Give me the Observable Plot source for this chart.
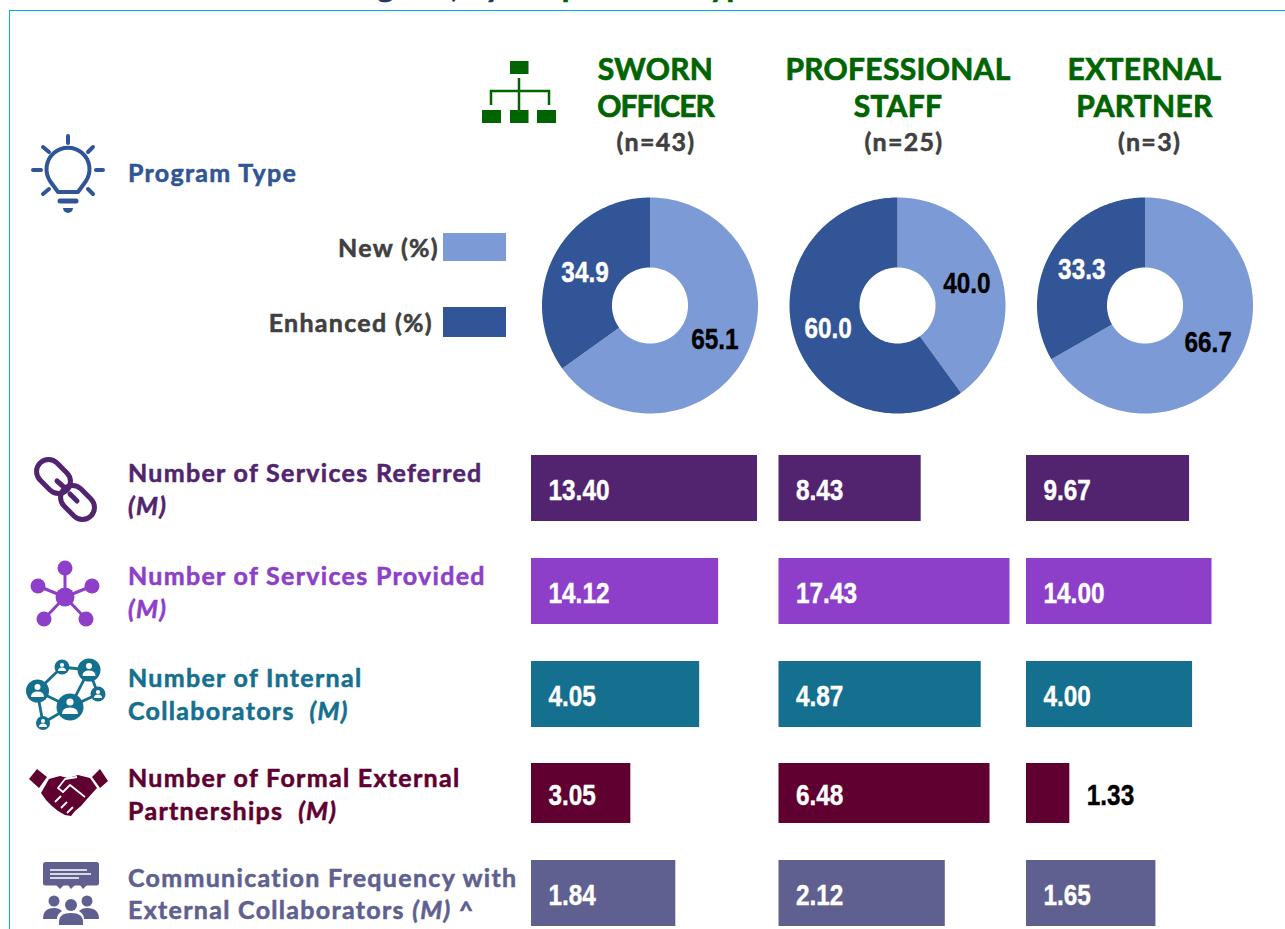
<!DOCTYPE html>
<html><head><meta charset="utf-8">
<script src="https://cdn.jsdelivr.net/npm/d3@7"></script>
<script src="https://cdn.jsdelivr.net/npm/@observablehq/plot@0.6"></script>
<style>
html,body{margin:0;padding:0;background:#fff;overflow:hidden}
#page{position:relative;width:1285px;height:929px;overflow:hidden;font-family:Lato,sans-serif}
#frame{position:absolute;left:9px;top:10px;width:1300px;height:950px;border:1.5px solid #00AEEF;box-sizing:border-box}
.t{position:absolute;white-space:nowrap;font-weight:700;line-height:1;-webkit-text-stroke:.55px currentColor}
.t i{font-style:italic}
.plot{position:absolute}
.plot svg,svg.plot{overflow:visible;background:transparent}
</style></head><body><div id="page"><div id="frame"></div>
<svg id="icons" width="1285" height="929" style="position:absolute;left:0;top:0">
 <g fill="#006400" stroke="none">
  <rect x="510" y="61" width="18.5" height="13"/><rect x="482" y="110" width="19" height="13"/><rect x="510" y="110" width="18.5" height="13"/><rect x="537" y="110" width="19" height="13"/>
 </g>
 <path d="M519 78V110M491 105V91H549V105" fill="none" stroke="#006400" stroke-width="2.5"/>
 <g fill="none" stroke="#2F5597" stroke-width="4" stroke-linecap="round">
  <path d="M58 192L50 181A21.5 21.5 0 1 1 86 181L78 192Z" stroke-linejoin="round"/>
  <path d="M68 136V143M33 170H41M96 170H103M43 147L49 152M93 147L88 152M43 194L49 189M93 194L88 189"/>
  <path d="M60 201H76" stroke-width="5"/>
 </g>
 <path d="M63 208H73A5 5 0 0 1 63 208Z" fill="#2F5597"/>
 <g fill="none" stroke="#52246F" stroke-width="5" stroke-linecap="round">
  <rect x="-19" y="-12" width="38" height="24" rx="12" transform="translate(53.500 476.500) rotate(45)"/>
  <rect x="-19" y="-12" width="38" height="24" rx="12" transform="translate(77.500 502.500) rotate(45)"/>
  <path d="M57 481L65 488M70 494L77 501"/>
 </g>
 <g fill="#8E3FCA" stroke="#8E3FCA" stroke-width="3">
  <path d="M65 597V568M65 597L38 586M65 597L92 586M65 597L44 619M65 597L86 619" fill="none"/>
  <g stroke="none"><circle cx="65" cy="597" r="9.5"/><circle cx="65" cy="568" r="7.5"/><circle cx="38" cy="586" r="7.5"/><circle cx="92" cy="586" r="7.5"/><circle cx="44" cy="619" r="7.5"/><circle cx="86" cy="619" r="7.5"/></g>
 </g>
 <g>
  <path d="M37 691L62 667L89 670L70 707L37 691L43 723L70 707L98 694L89 670" fill="none" stroke="#156F8F" stroke-width="2.8"/>
  <g fill="#156F8F"><circle cx="70" cy="707" r="13.5"/><circle cx="89" cy="670" r="11.5"/><circle cx="37.500" cy="691" r="11.500"/><circle cx="62" cy="667" r="7.500"/><circle cx="98" cy="694" r="7.500"/><circle cx="43" cy="723" r="7"/></g>
  <g fill="#fff">
   <circle cx="70" cy="702" r="3.600"/><path d="M62 714Q62 707.500 70 707.500Q78 707.500 78 714Z"/>
   <circle cx="89" cy="666" r="3"/><path d="M82.500 676Q82.500 670.500 89 670.500Q95.500 670.500 95.500 676Z"/>
   <circle cx="37.500" cy="687" r="3"/><path d="M31 697Q31 691.500 37.500 691.500Q44 691.500 44 697Z"/>
   <circle cx="62" cy="665" r="2.100"/><path d="M58 671Q58 667.500 62 667.500Q66 667.500 66 671Z"/>
   <circle cx="98" cy="692" r="2.100"/><path d="M94 698Q94 694.500 98 694.500Q102 694.500 102 698Z"/>
   <circle cx="43" cy="721" r="2"/><path d="M39 727Q39 723.500 43 723.500Q47 723.500 47 727Z"/>
  </g>
 </g>
 <g fill="#600030">
  <path d="M29 779L37 769L47 777L39 788Z"/><path d="M92 777L100 769L108 781L100 788Z"/>
  <path d="M49 779L60 776L68 778L78 775L90 778L97 788L87 799L81 806L75 811L71 816L65 815L58 811L52 806L46 800L41 793Z"/>
 </g>
 <path d="M77 777L65 779L58 788L63 792L70 785L85 797M55 802L61 796M61 808L67 802M67 813L73 807" fill="none" stroke="#fff" stroke-width="1.800" stroke-linejoin="round"/>
 <g fill="#606090">
  <rect x="43" y="862" width="56" height="23.500" rx="2.500"/>
  <path d="M56 885L60 889L64 885ZM68 885L71 889L75 885ZM80 885L83 889L87 885Z"/>
  <circle cx="54" cy="901" r="5.500"/><circle cx="87" cy="901" r="5.500"/><circle cx="71" cy="905" r="6"/>
  <path d="M43 919Q43 908 54 908Q59 908 62 911Q57 914 57 919Z"/><path d="M99 919Q99 908 87 908Q82 908 79 911Q84 914 84 919Z"/>
  <path d="M59 925V922Q59 913 71 913Q83 913 83 922V925Z"/>
 </g>
 <path d="M50 870H87M50 874H91M50 878H79" stroke="#fff" stroke-width="1.300"/>
</svg>
</div>
<script>
// ---- data ----
const roles = ["Sworn Officer", "Professional Staff", "External Partner"];
const headerLines = [["SWORN", "OFFICER"], ["PROFESSIONAL", "STAFF"], ["EXTERNAL", "PARTNER"]];
const sampleSizes = [43, 25, 3];
const newPct = [65.1, 40.0, 66.7];
const enhancedPct = [34.9, 60.0, 33.3];
const referred = [13.40, 8.43, 9.67];
const provided = [14.12, 17.43, 14.00];
const internalCollab = [4.05, 4.87, 4.00];
const externalPartners = [3.05, 6.48, 1.33];
const commFrequency = [1.84, 2.12, 1.65];
const metricLabels = [
  ["Number of Services Referred", "<i>(M)</i>"],
  ["Number of Services Provided", "<i>(M)</i>"],
  ["Number of Internal", "Collaborators&nbsp; <i>(M)</i>"],
  ["Number of Formal External", "Partnerships&nbsp; <i>(M)</i>"],
  ["Communication Frequency with", "External Collaborators <i>(M)</i> ^"]
];
const sliceNames = ["New (%)", "Enhanced (%)"];
// ---- styling ----
const sliceColors = ["#7C9AD6", "#325597"];
const metricColors = ["#52246F", "#8E3FCA", "#156F8F", "#600030", "#606090"];
const rowAxisMax = [14.23, 18.11, 5.78, 7.37, 3.06];   // value at the right edge of each panel
const rowTop = [455, 558, 661, 763, 860];
const rowH = [66, 66, 66, 60, 66];
const labelTop = [[460, 493], [563, 596], [665, 698], [765, 798], [865, 897]];
const headerTrack = [[.3, -1], [.3, .3], [.3, .3]];
const numFont = '"Liberation Sans",Arial,sans-serif';
const narrow = 0.84;
const panelW = 240, step = 247.5, panelsLeft = 531;
const fxScale = {domain: roles, paddingInner: (step - panelW) / step, paddingOuter: 0, axis: null, round: false};
const page = document.getElementById("page");

function txt(html, o) {
  const d = document.createElement("div");
  d.className = "t"; d.innerHTML = html;
  Object.assign(d.style, o);
  page.appendChild(d);
  return d;
}
function place(svg, left, top) {
  svg.classList.add("plot");
  svg.style.left = left + "px"; svg.style.top = top + "px";
  page.appendChild(svg);
  // the value labels are set in a condensed, heavy width
  svg.querySelectorAll("text").forEach(t => {
    t.setAttribute("textLength", (t.getComputedTextLength() * narrow).toFixed(1));
    t.setAttribute("lengthAdjust", "spacingAndGlyphs");
    t.setAttribute("stroke", getComputedStyle(t).fill);
    t.setAttribute("stroke-width", "0.4");
  });
}

// clipped title at the top edge of the crop
txt('<span style="color:#1F3864">Program, by </span><span style="color:#006400">Respondent Type</span>',
    {left: "326px", top: "-32px", fontSize: "33px"});

// role headers
const headerCx = [655.5, 898, 1144.5], nCx = [656, 904, 1149.5];
headerLines.forEach((lines, i) => {
  lines.forEach((line, j) => txt(line, {
    left: headerCx[i] + "px", top: (53 + j * 37) + "px", transform: "translateX(-50%)",
    color: "#006400", fontSize: "30px", letterSpacing: headerTrack[i][j] + "px", webkitTextStroke: ".7px currentColor"
  }));
  txt(`(n=${sampleSizes[i]})`, {left: nCx[i] + "px", top: "129px", transform: "translateX(-50%)",
    color: "#404040", fontSize: "25px", letterSpacing: "1.3px"});
});

const labelStyle = {fontSize: "25px", letterSpacing: "1.3px"};
// program type label and legend
txt("Program Type", {left: "128px", top: "160px", color: "#2F5597", ...labelStyle});
[[233, 28, 439, 235], [307, 30, 433, 310]].forEach(([top, h, right, ty], i) => {
  const s = document.createElement("div");
  Object.assign(s.style, {position: "absolute", left: "443px", top: top + "px", width: "63px", height: h + "px", background: sliceColors[i]});
  page.appendChild(s);
  txt(sliceNames[i], {right: (1285 - right) + "px", top: ty + "px", color: "#404040", ...labelStyle});
});

// doughnuts
const hole = 0.352, labelR = 0.676, boxR = 120 / 108;
function ringPoints(role, slice, from, to) {
  const pt = (r, f) => ({role, slice, x: r * Math.sin(2 * Math.PI * f), y: r * Math.cos(2 * Math.PI * f)});
  const fs = d3.range(0, 181).map(k => from + (to - from) * k / 180);
  return [...fs.map(f => pt(1, f)), ...fs.slice().reverse().map(f => pt(hole, f))];
}
const ringData = [], ringLabels = [];
roles.forEach((role, i) => {
  const a = newPct[i] / 100;
  ringData.push(...ringPoints(role, sliceNames[0], 0, a), ...ringPoints(role, sliceNames[1], a, 1));
  const mids = [a / 2, a + (1 - a) / 2], vals = [newPct[i], enhancedPct[i]];
  mids.forEach((m, j) => ringLabels.push({role, value: vals[j],
    x: labelR * Math.sin(2 * Math.PI * m), y: labelR * Math.cos(2 * Math.PI * m),
    dark: j === 0}));
});
place(Plot.plot({
  width: 1285, height: 240, marginLeft: panelsLeft - 1.5, marginRight: 1285 - (panelsLeft - 1.5) - (3 * panelW + 2 * (step - panelW)), marginTop: 0, marginBottom: 0,
  style: {background: "transparent"},
  x: {domain: [-boxR, boxR], axis: null}, y: {domain: [-boxR, boxR], axis: null},
  fx: {...fxScale},
  color: {domain: sliceNames, range: sliceColors},
  marks: [
    Plot.line(ringData, {fx: "role", x: "x", y: "y", z: "slice", fill: "slice", stroke: "none", curve: "linear"}),
    Plot.text(ringLabels, {fx: "role", x: "x", y: "y", text: d => d.value.toFixed(1), fill: d => d.dark ? "#000" : "#fff",
      fontFamily: numFont, fontWeight: 700, fontSize: 29, lineAnchor: "middle", dy: 1})
  ]
}), 0, 185);

// bar rows
[referred, provided, internalCollab, externalPartners, commFrequency].forEach((vals, r) => {
  const rows = roles.map((role, i) => ({role, value: vals[i], outside: vals[i] / rowAxisMax[r] < 0.25}));
  place(Plot.plot({
    width: 1285, height: rowH[r], marginLeft: panelsLeft, marginRight: 1285 - panelsLeft - (3 * panelW + 2 * (step - panelW)), marginTop: 0, marginBottom: 0,
    style: {background: "transparent"},
    x: {domain: [0, rowAxisMax[r]], axis: null},
    fx: {...fxScale},
    marks: [
      Plot.barX(rows, {fx: "role", x: "value", fill: metricColors[r]}),
      Plot.text(rows, {fx: "role", x: d => d.outside ? d.value : 0, text: d => d.value.toFixed(2), textAnchor: "start",
        dx: 17, dy: 2.5, fill: d => d.outside ? "#000" : "#fff", fontFamily: numFont, fontWeight: 700, fontSize: 29, lineAnchor: "middle"})
    ]
  }), 0, rowTop[r]);
  metricLabels[r].forEach((line, j) => txt(line, {left: "128px", top: labelTop[r][j] + "px", color: metricColors[r], ...labelStyle}));
});
</script></body></html>
